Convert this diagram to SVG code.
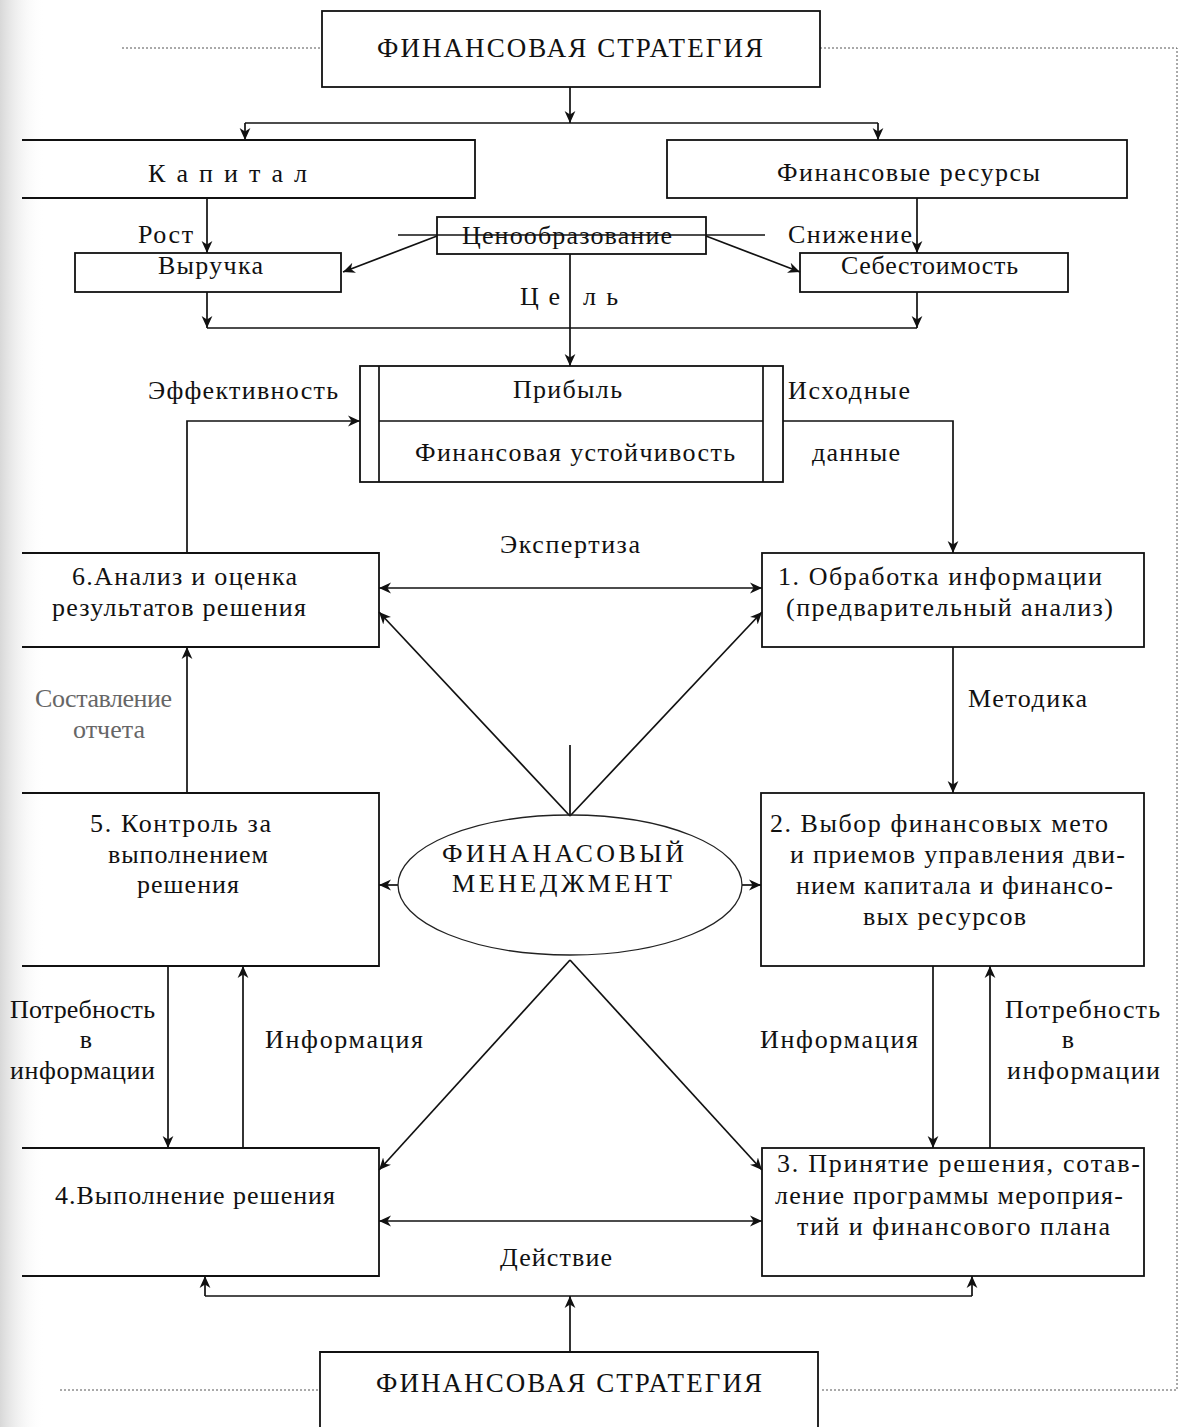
<svg xmlns="http://www.w3.org/2000/svg" width="1191" height="1427" viewBox="0 0 1191 1427">
<defs>
<marker id="ah" viewBox="0 0 10 10" refX="10" refY="5" markerWidth="12" markerHeight="12" orient="auto-start-reverse" markerUnits="userSpaceOnUse">
<path d="M0,0.5 L10,5 L0,9.5 L3,5 z" fill="#111"/>
</marker>
<linearGradient id="edge" x1="0" y1="0" x2="1" y2="0">
<stop offset="0" stop-color="#d8d8d8"/>
<stop offset="1" stop-color="#ffffff" stop-opacity="0"/>
</linearGradient>
<style>
.box{fill:none;stroke:#111;stroke-width:1.8}
.ln{fill:none;stroke:#111;stroke-width:1.7}
.ar{fill:none;stroke:#111;stroke-width:1.7;marker-end:url(#ah)}
.da{fill:none;stroke:#111;stroke-width:1.7;marker-start:url(#ah);marker-end:url(#ah)}
.dot{fill:none;stroke:#555;stroke-width:1;stroke-dasharray:2 2}
.ell{fill:none;stroke:#222;stroke-width:1.3}
text{font-family:"Liberation Serif","DejaVu Serif",serif;font-size:26px;fill:#111}
.t{font-size:27px}
.c{text-anchor:middle}
.faint{fill:#666}
</style>
</defs>
<rect x="0" y="0" width="1191" height="1427" fill="#fff"/>
<rect x="0" y="0" width="45" height="1427" fill="url(#edge)"/>

<g id="frame">
<path class="dot" d="M122,48 H322 M820,48 H1177 V1390 H820 M60,1390 H320"/>
</g>

<g id="connectors">
<path class="ar" d="M570,87 V123"/>
<path class="ln" d="M245,123 H878"/>
<path class="ar" d="M245,123 V140"/>
<path class="ar" d="M878,123 V140"/>
<path class="ar" d="M207,198 V253"/>
<path class="ar" d="M917,198 V253"/>
<path class="ln" d="M398,235 H765"/>
<path class="ar" d="M437,236 L343,272"/>
<path class="ar" d="M706,236 L800,272"/>
<path class="ar" d="M570,254 V366"/>
<path class="ar" d="M207,292 V328"/>
<path class="ar" d="M917,292 V328"/>
<path class="ln" d="M207,328 H917"/>
<path class="ar" d="M187,553 V421 H360"/>
<path class="ar" d="M783,421 H953 V553"/>
<path class="da" d="M379,588 H762"/>
<path class="ar" d="M570,816 L379,612"/>
<path class="ar" d="M570,816 L762,612"/>
<path class="ln" d="M570,745 V815"/>
<path class="ar" d="M953,647 V793"/>
<path class="ar" d="M187,793 V647"/>
<path class="ar" d="M398,885 H379"/>
<path class="ar" d="M742,885 H761"/>
<path class="ar" d="M570,960 L379,1170"/>
<path class="ar" d="M570,960 L762,1170"/>
<path class="ar" d="M168,966 V1148"/>
<path class="ar" d="M243,1148 V966"/>
<path class="ar" d="M933,966 V1148"/>
<path class="ar" d="M990,1148 V966"/>
<path class="da" d="M379,1221 H762"/>
<path class="ar" d="M570,1352 V1296"/>
<path class="ln" d="M205,1296 H972"/>
<path class="ar" d="M205,1296 V1276"/>
<path class="ar" d="M972,1296 V1276"/>
</g>

<g id="labels">
<text x="138" y="243" textLength="55" lengthAdjust="spacing">Рост</text>
<text x="788" y="243" textLength="124" lengthAdjust="spacing">Снижение</text>
<text x="520" y="305" textLength="40" lengthAdjust="spacing">Ц е</text>
<text x="583" y="305" textLength="35" lengthAdjust="spacing">л ь</text>
<text x="148" y="399" textLength="190" lengthAdjust="spacing">Эффективность</text>
<text x="788" y="399" textLength="122" lengthAdjust="spacing">Исходные</text>
<text x="812" y="461" textLength="88" lengthAdjust="spacing">данные</text>
<text x="500" y="553" textLength="140" lengthAdjust="spacing">Экспертиза</text>
<text x="968" y="707" textLength="119" lengthAdjust="spacing">Методика</text>
<text class="faint" x="35" y="707" textLength="137" lengthAdjust="spacing">Составление</text>
<text class="faint" x="73" y="738" textLength="72" lengthAdjust="spacing">отчета</text>
<text x="10" y="1018" textLength="145" lengthAdjust="spacing">Потребность</text>
<text x="86" y="1048" class="c">в</text>
<text x="10" y="1079" textLength="145" lengthAdjust="spacing">информации</text>
<text x="265" y="1048" textLength="158" lengthAdjust="spacing">Информация</text>
<text x="760" y="1048" textLength="158" lengthAdjust="spacing">Информация</text>
<text x="1005" y="1018" textLength="155" lengthAdjust="spacing">Потребность</text>
<text x="1068" y="1048" class="c">в</text>
<text x="1007" y="1079" textLength="153" lengthAdjust="spacing">информации</text>
<text x="500" y="1266" textLength="112" lengthAdjust="spacing">Действие</text>
</g>

<g id="strategy-top">
<rect class="box" x="322" y="11" width="498" height="76"/>
<text class="t" x="377" y="57" textLength="386" lengthAdjust="spacing">ФИНАНСОВАЯ СТРАТЕГИЯ</text>
</g>

<g id="capital">
<path class="box" d="M22,140 H475 V198 H22"/>
<text x="148" y="182" textLength="159" lengthAdjust="spacing">К а п и т а л</text>
</g>

<g id="fin-resources">
<rect class="box" x="667" y="140" width="460" height="58"/>
<text x="777" y="181" textLength="263" lengthAdjust="spacing">Финансовые ресурсы</text>
</g>

<g id="pricing">
<rect class="box" x="437" y="217" width="269" height="37"/>
<text x="462" y="244" textLength="210" lengthAdjust="spacing">Ценообразование</text>
</g>

<g id="revenue">
<rect class="box" x="75" y="253" width="266" height="39"/>
<text x="158" y="274" textLength="105" lengthAdjust="spacing">Выручка</text>
</g>

<g id="cost">
<rect class="box" x="800" y="253" width="268" height="39"/>
<text x="841" y="274" textLength="177" lengthAdjust="spacing">Себестоимость</text>
</g>

<g id="profit">
<rect class="box" x="360" y="366" width="423" height="116"/>
<path class="ln" d="M379,366 V482 M763,366 V482 M379,421 H763"/>
<text x="513" y="398" textLength="109" lengthAdjust="spacing">Прибыль</text>
<text x="415" y="461" textLength="320" lengthAdjust="spacing">Финансовая устойчивость</text>
</g>

<g id="step6">
<path class="box" d="M22,553 H379 V647 H22"/>
<text x="72" y="585" textLength="225" lengthAdjust="spacing">6.Анализ и оценка</text>
<text x="52" y="616" textLength="254" lengthAdjust="spacing">результатов решения</text>
</g>

<g id="step1">
<rect class="box" x="762" y="553" width="382" height="94"/>
<text x="778" y="585" textLength="324" lengthAdjust="spacing">1. Обработка информации</text>
<text x="786" y="616" textLength="327" lengthAdjust="spacing">(предварительный анализ)</text>
</g>

<g id="step5">
<path class="box" d="M22,793 H379 V966 H22"/>
<text x="90" y="832" textLength="181" lengthAdjust="spacing">5. Контроль за</text>
<text x="108" y="863" textLength="160" lengthAdjust="spacing">выполнением</text>
<text x="137" y="893" textLength="102" lengthAdjust="spacing">решения</text>
</g>

<g id="fin-management">
<ellipse class="ell" cx="570" cy="885" rx="172" ry="70"/>
<text x="442" y="862" textLength="242" lengthAdjust="spacing">ФИНАНАСОВЫЙ</text>
<text x="452" y="892" textLength="220" lengthAdjust="spacing">МЕНЕДЖМЕНТ</text>
</g>

<g id="step2">
<rect class="box" x="761" y="793" width="383" height="173"/>
<text x="770" y="832" textLength="338" lengthAdjust="spacing">2. Выбор финансовых мето</text>
<text x="790" y="863" textLength="335" lengthAdjust="spacing">и приемов управления дви-</text>
<text x="796" y="894" textLength="317" lengthAdjust="spacing">нием капитала и финансо-</text>
<text x="863" y="925" textLength="163" lengthAdjust="spacing">вых ресурсов</text>
</g>

<g id="step4">
<path class="box" d="M22,1148 H379 V1276 H22"/>
<text x="55" y="1204" textLength="280" lengthAdjust="spacing">4.Выполнение решения</text>
</g>

<g id="step3">
<rect class="box" x="762" y="1148" width="382" height="128"/>
<text x="777" y="1172" textLength="363" lengthAdjust="spacing">3. Принятие решения, сотав-</text>
<text x="775" y="1204" textLength="348" lengthAdjust="spacing">ление программы мероприя-</text>
<text x="797" y="1235" textLength="313" lengthAdjust="spacing">тий и финансового плана</text>
</g>

<g id="strategy-bottom">
<path class="box" d="M320,1427 V1352 H818 V1427"/>
<text class="t" x="376" y="1392" textLength="386" lengthAdjust="spacing">ФИНАНСОВАЯ СТРАТЕГИЯ</text>
</g>
</svg>
